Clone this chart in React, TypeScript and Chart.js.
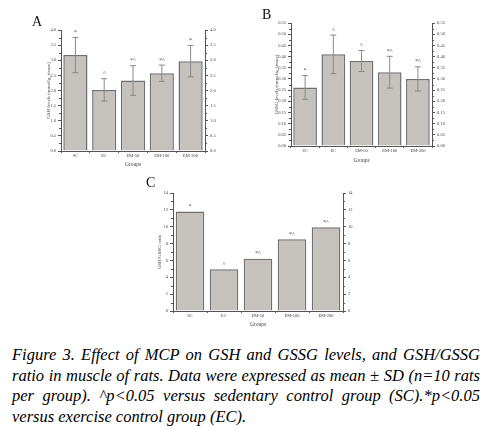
import React, { useEffect, useRef } from 'react';
import { Chart, registerables } from 'chart.js';

Chart.register(...registerables);

const categories = ['SC', 'EC', 'EM-50', 'EM-100', 'EM-200'];

const gshMeans = [3.17, 2.02, 2.33, 2.57, 2.97];
const gshSD = [0.58, 0.37, 0.49, 0.27, 0.52];
const gshMarks = ['*', '^', '*^', '*^', '*'];

const gssgMeans = [0.262, 0.41, 0.38, 0.33, 0.3];
const gssgSD = [0.053, 0.086, 0.047, 0.071, 0.054];
const gssgMarks = ['*', '^', '^', '*^', '*^'];

const ratioMeans = [11.8, 4.95, 6.2, 8.5, 9.95];
const ratioMarks = ['*', '^', '*^', '*^', '*^'];

const captionLines = [
  'Figure 3. Effect of MCP on GSH and GSSG levels, and GSH/GSSG',
  'ratio in muscle of rats. Data were expressed as mean \u00b1 SD (n=10 rats',
  'per group). ^p<0.05 versus sedentary control group (SC).*p<0.05',
  'versus exercise control group (EC).',
];

const SERIF = '"Liberation Serif", serif';
const AXIS = '#555555';

type PanelProps = {
  left: number;
  top: number;
  width: number;
  height: number;
  leftW: number;
  rightW: number;
  padTop: number;
  xH: number;
  yTitlePad: number;
  xTitlePad: number;
  means: number[];
  sd?: number[];
  marks: string[];
  max: number;
  step: number;
  decimals: number;
  yTitle: string;
};

function Panel(p: PanelProps) {
  const ref = useRef<HTMLCanvasElement>(null);
  useEffect(() => {
    if (!ref.current) return;
    const errPlugin = {
      id: 'errbars',
      afterDraw(chart: any) {
        const ctx = chart.ctx;
        const ys = chart.scales.y;
        const area = chart.chartArea;
        // minor ticks between major ticks on both vertical axes
        ctx.save();
        ctx.strokeStyle = AXIS;
        ctx.lineWidth = 1;
        ctx.beginPath();
        for (let v = p.step / 2; v < p.max; v += p.step) {
          const yy = Math.round(ys.getPixelForValue(v)) + 0.5;
          ctx.moveTo(area.left, yy);
          ctx.lineTo(area.left - 2, yy);
          ctx.moveTo(area.right, yy);
          ctx.lineTo(area.right + 2, yy);
        }
        ctx.stroke();
        ctx.restore();
      },
      afterDatasetsDraw(chart: any) {
        const ctx = chart.ctx;
        const meta = chart.getDatasetMeta(0);
        const ys = chart.scales.y;
        ctx.save();
        meta.data.forEach((bar: any, i: number) => {
          const x = bar.x;
          let topY = bar.y;
          if (p.sd) {
            const hi = ys.getPixelForValue(p.means[i] + p.sd[i]);
            const lo = ys.getPixelForValue(p.means[i] - p.sd[i]);
            ctx.strokeStyle = '#8a8a8a';
            ctx.lineWidth = 1;
            ctx.beginPath();
            ctx.moveTo(x, hi);
            ctx.lineTo(x, lo);
            ctx.moveTo(x - 3, hi);
            ctx.lineTo(x + 3, hi);
            ctx.moveTo(x - 3, lo);
            ctx.lineTo(x + 3, lo);
            ctx.stroke();
            topY = hi;
          }
          ctx.fillStyle = '#444';
          ctx.font = `6px ${SERIF}`;
          ctx.textAlign = 'center';
          ctx.textBaseline = 'bottom';
          ctx.fillText(p.marks[i], x, topY - 2);
        });
        ctx.restore();
      },
    };
    const tickFont = { family: SERIF, size: 4.5 };
    const yCommon = (pos: 'left' | 'right', w: number) => ({
      position: pos,
      min: 0,
      max: p.max,
      ticks: {
        stepSize: p.step,
        font: tickFont,
        color: '#444',
        padding: 2,
        callback: (v: any) => Number(v).toFixed(p.decimals),
      },
      grid: { drawOnChartArea: false, tickLength: 3, color: AXIS },
      border: { color: AXIS, width: 1 },
      afterFit: (s: any) => {
        s.width = w;
      },
    });
    const chart = new Chart(ref.current, {
      type: 'bar',
      data: {
        labels: categories,
        datasets: [
          {
            data: p.means,
            backgroundColor: '#c5c1bd',
            borderColor: '#707070',
            borderWidth: 1.5,
            categoryPercentage: 1,
            barPercentage: 0.84,
            yAxisID: 'y',
          },
        ],
      },
      options: {
        responsive: false,
        animation: false,
        maintainAspectRatio: false,
        layout: { padding: { top: p.padTop, left: 0, right: 0, bottom: 0 } },
        plugins: { legend: { display: false }, tooltip: { enabled: false } },
        scales: {
          x: {
            type: 'category',
            offset: true,
            ticks: { font: tickFont, color: '#444', padding: 0, maxRotation: 0, autoSkip: false },
            grid: { drawOnChartArea: false, tickLength: 2, color: AXIS },
            border: { color: AXIS, width: 1 },
            title: {
              display: true,
              text: 'Groups',
              font: { family: SERIF, size: 5.5 },
              color: '#444',
              padding: { top: 0, bottom: p.xTitlePad },
            },
            afterFit: (s: any) => {
              s.height = p.xH;
            },
          },
          y: {
            ...yCommon('left', p.leftW),
            title: {
              display: true,
              text: p.yTitle,
              font: { family: SERIF, size: 5 },
              color: '#444',
              padding: { top: p.yTitlePad, bottom: 0 },
            },
          } as any,
          y2: yCommon('right', p.rightW) as any,
        },
      },
      plugins: [errPlugin],
    } as any);
    return () => chart.destroy();
  }, []);
  return (
    <canvas
      ref={ref}
      width={p.width}
      height={p.height}
      style={{ position: 'absolute', left: p.left, top: p.top, width: p.width, height: p.height }}
    />
  );
}

const letterStyle = (left: number, top: number): React.CSSProperties => ({
  position: 'absolute',
  left,
  top,
  font: `14px ${SERIF}`,
  lineHeight: '14px',
  color: '#111',
});

export default function App() {
  return (
    <div style={{ position: 'absolute', left: 0, top: 0, width: 485, height: 430, background: '#fff' }}>
      <Panel
        left={0}
        top={0}
        width={240}
        height={175}
        leftW={61}
        rightW={35}
        padTop={30}
        xH={24}
        yTitlePad={45.5}
        xTitlePad={6.7}
        means={gshMeans}
        sd={gshSD}
        marks={gshMarks}
        max={4}
        step={0.5}
        decimals={1}
        yTitle="GSH levels (mmol/g, tissue)"
      />
      <Panel
        left={240}
        top={0}
        width={245}
        height={170}
        leftW={51}
        rightW={53}
        padTop={23}
        xH={24}
        yTitlePad={33.5}
        xTitlePad={5.7}
        means={gssgMeans}
        sd={gssgSD}
        marks={gssgMarks}
        max={0.55}
        step={0.05}
        decimals={2}
        yTitle="GSSG levels (mmol/g, tissue)"
      />
      <Panel
        left={130}
        top={170}
        width={240}
        height={165}
        leftW={43}
        rightW={27}
        padTop={23}
        xH={24}
        yTitlePad={27}
        xTitlePad={6.7}
        means={ratioMeans}
        marks={ratioMarks}
        max={14}
        step={2}
        decimals={0}
        yTitle="GSH/GSSG ratio"
      />
      <div style={letterStyle(32, 15)}>A</div>
      <div style={letterStyle(262, 8)}>B</div>
      <div style={letterStyle(146, 176)}>C</div>
      <div
        style={{
          position: 'absolute',
          left: 12,
          top: 345,
          width: 468,
          font: `italic 16.5px ${SERIF}`,
          lineHeight: '20.5px',
          color: '#000',
        }}
      >
        {captionLines.map((line, i) => (
          <div
            key={i}
            style={{
              textAlign: 'justify',
              textAlignLast: i < captionLines.length - 1 ? 'justify' : 'left',
              whiteSpace: 'nowrap',
            }}
          >
            {line}
          </div>
        ))}
      </div>
    </div>
  );
}
